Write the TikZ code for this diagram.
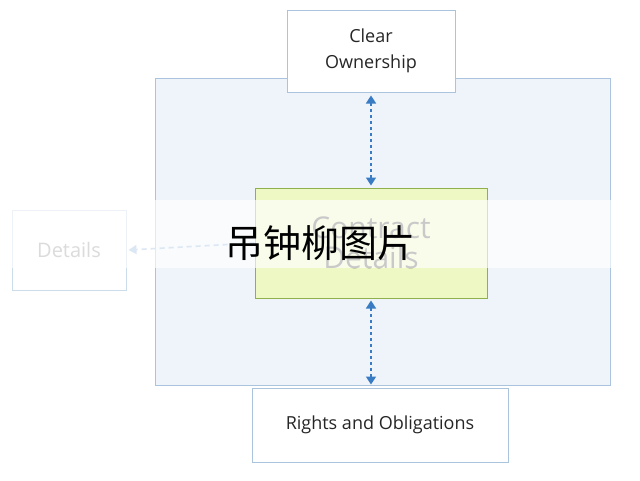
\documentclass[tikz,border=0pt]{standalone}
\usepackage{fontspec}
\setmainfont{Open Sans}
\newfontfamily\cjk{Noto Sans CJK SC}
\usetikzlibrary{arrows.meta}
\definecolor{bgblue}{HTML}{EEF4FA}
\definecolor{bdblue}{HTML}{A9C4DC}
\definecolor{arr}{HTML}{3A7CC4}
\definecolor{gfill}{HTML}{EEF8C4}
\definecolor{gbd}{HTML}{8FB04A}
\begin{document}
\begin{tikzpicture}[x=1pt,y=-1pt,
  box/.style={draw=bdblue,line width=1pt,fill=white,align=center,font=\fontsize{18}{26}\selectfont,text=black!85},
  darr/.style={arr,line width=1.6pt,dash pattern=on 3pt off 3pt,{Triangle[length=8pt,width=10pt]}-{Triangle[length=8pt,width=10pt]}}]
\useasboundingbox (0,0) rectangle (640,480);
\fill[white] (0,0) rectangle (640,480);
\draw[fill=bgblue,draw=bdblue,line width=1pt] (155,78) rectangle (610,385);
\node[box,minimum width=168pt,minimum height=82pt] (own) at (371,51) {Clear\\Ownership};
\node[box,draw=gbd,fill=gfill,minimum width=232pt,minimum height=110pt,font=\fontsize{30}{30}\selectfont,text=black!60] (con) at (371,243) {Contract\\Details};
\node[box,minimum width=114pt,minimum height=80pt,draw=bdblue!60,text=black!40,font=\fontsize{20}{22}\selectfont] (det) at (69,250) {Details};
\node[box,minimum width=256pt,minimum height=74pt] (rig) at (380,425) {Rights and Obligations};
\draw[darr] ([yshift=-3pt]own.south -| con.north) -- ([yshift=2pt]con.north);
\draw[darr] ([yshift=-2pt]con.south) -- ([yshift=3pt]con.south |- rig.north);
\draw[arr!50,line width=1.6pt,dash pattern=on 5pt off 4pt,-{Triangle[length=8pt,width=9pt]}] (con.west) -- ([xshift=2pt]det.east);
\fill[white,opacity=0.65] (0,200) rectangle (640,268);
\node[font=\cjk\fontsize{38}{40}\selectfont,text=black] (wm) at (320,243) {吊钟柳图片};
\end{tikzpicture}
\end{document}
